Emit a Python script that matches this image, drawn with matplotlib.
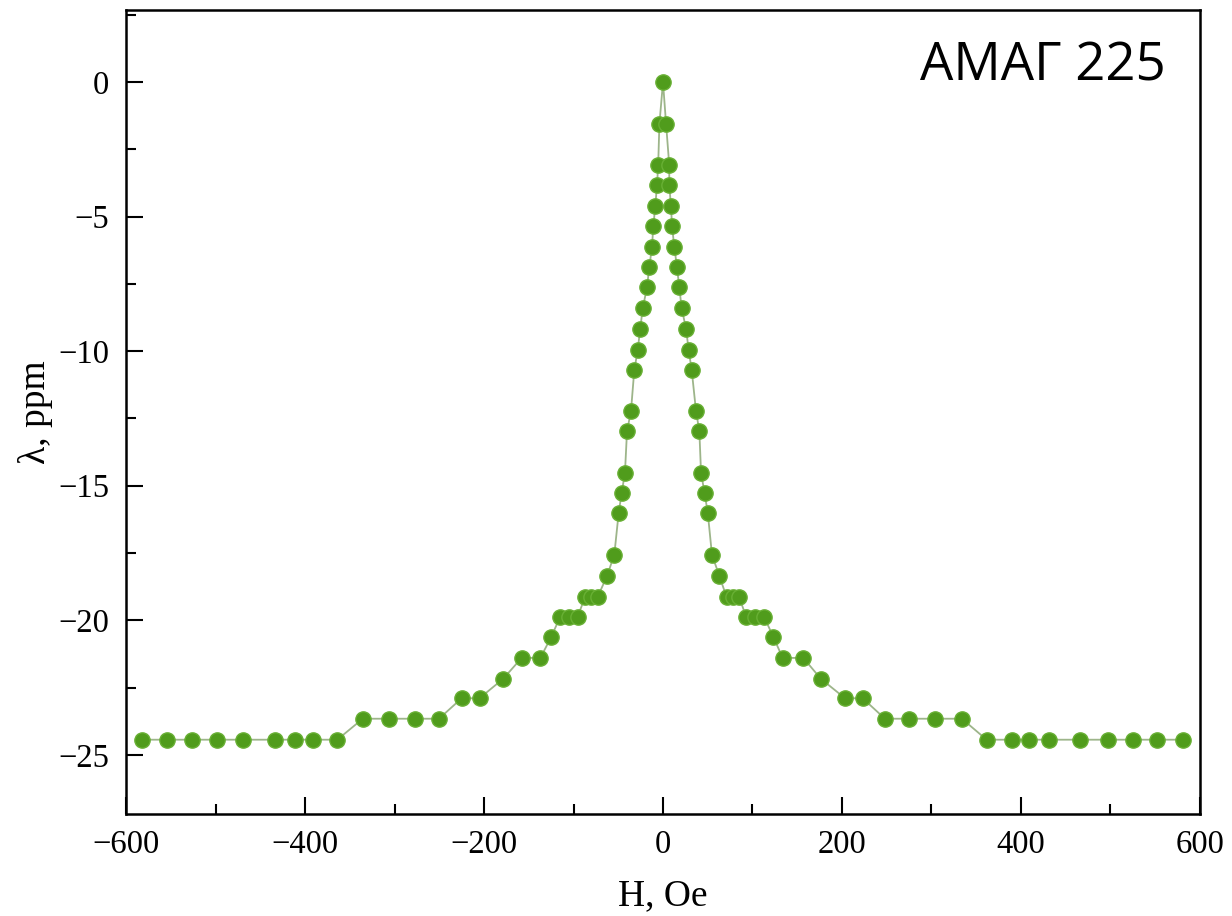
import matplotlib
matplotlib.use('Agg')
import matplotlib.pyplot as plt
from matplotlib.ticker import MultipleLocator
import numpy as np

# field H (Oe) and magnetostriction lambda (ppm)
H_left = [-582.5, -554.5, -526.6, -498.7, -469, -433.5, -411.2, -391.4, -363.9,
          -335.5, -305.8, -277.1, -250.3,
          -225, -205,
          -178.4,
          -158, -137,
          -124.9,
          -115, -105, -95.5,
          -87, -80, -73,
          -62.6, -54.4, -49.5, -46.2, -42.5, -40.2, -35.8, -32.1,
          -28.3, -25.4, -22.7, -17.9, -15.3, -12.3, -10.8, -8.6, -6.7, -5.4, -4.0]
lam_left = [-24.44, -24.44, -24.44, -24.44, -24.44, -24.44, -24.44, -24.44, -24.44,
            -23.66, -23.66, -23.66, -23.66,
            -22.9, -22.9,
            -22.17,
            -21.4, -21.4,
            -20.62,
            -19.88, -19.88, -19.88,
            -19.13, -19.13, -19.13,
            -18.36, -17.56, -16.0, -15.27, -14.51, -12.97, -12.23, -10.71,
            -9.96, -9.16, -8.41, -7.63, -6.87, -6.12, -5.35, -4.6, -3.83, -3.09, -1.54]

H_peak = [0.0]
lam_peak = [0.0]

H_right = [3.4, 7.0, 7.0, 8.9, 10.1, 12.6, 15.6, 18.2, 20.9, 25.7, 28.7,
           32.1, 36.9, 40.6, 42.5, 46.4, 50.0, 54.7, 63.0,
           71, 78, 85,
           93, 103, 113,
           123.3,
           133.7, 156.8,
           176.2,
           203.4, 223.1,
           248, 275, 304, 334,
           361.6, 389.6, 409.3, 431.6, 465.9, 496.9, 524.8, 552.3, 580.7]
lam_right = [-1.54, -3.09, -3.83, -4.6, -5.35, -6.12, -6.87, -7.63, -8.41, -9.16, -9.96,
             -10.71, -12.23, -12.97, -14.51, -15.27, -16.0, -17.56, -18.36,
             -19.13, -19.13, -19.13,
             -19.88, -19.88, -19.88,
             -20.62,
             -21.4, -21.4,
             -22.17,
             -22.9, -22.9,
             -23.66, -23.66, -23.66, -23.66,
             -24.44, -24.44, -24.44, -24.44, -24.44, -24.44, -24.44, -24.44, -24.44]

H = H_left + H_peak + H_right
lam = lam_left + lam_peak + lam_right

fig = plt.figure(figsize=(12.32, 9.16), dpi=100)
ax = fig.add_axes([0.1023, 0.1114, 0.8717, 0.8776])

ax.plot(H, lam, '-', color='#9db58a', lw=1.3, zorder=1)
ax.plot(H, lam, 'o', ms=11, color='#509c1c', mec='#68b034', mew=1.0, zorder=2)

ax.set_xlim(-600, 600)
ax.set_ylim(-27.2, 2.68)
ax.xaxis.set_major_locator(MultipleLocator(200))
ax.xaxis.set_minor_locator(MultipleLocator(100))
ax.yaxis.set_major_locator(MultipleLocator(5))
ax.yaxis.set_minor_locator(MultipleLocator(2.5))
ax.tick_params(which='both', direction='in', width=1.5, top=False, right=False)
ax.tick_params(which='major', length=12)
ax.tick_params(which='minor', length=7)
for s in ax.spines.values():
    s.set_linewidth(1.8)

serif = 'Liberation Serif'
for lab in ax.get_xticklabels() + ax.get_yticklabels():
    lab.set_fontfamily(serif)
    lab.set_fontsize(23.5)
ax.tick_params(axis='x', pad=11)
ax.tick_params(axis='y', pad=12)

ax.set_xlabel('H, Oe', family=serif, fontsize=27, labelpad=14)
ax.set_ylabel('λ, ppm', family=serif, fontsize=27, labelpad=4)

ax.text(0.968, 0.93, 'АМАГ 225', transform=ax.transAxes, ha='right', va='center',
        family='Open Sans', fontsize=38)

fig.savefig('out.png', dpi=100)
